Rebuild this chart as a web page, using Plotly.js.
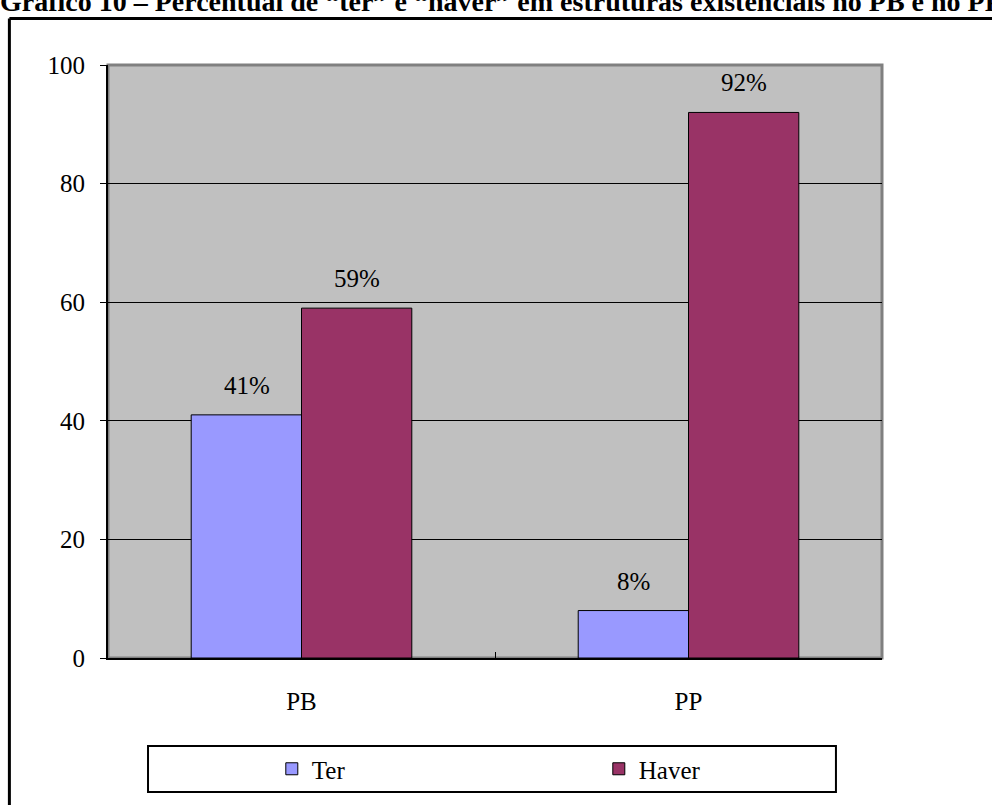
<!DOCTYPE html>
<html>
<head>
<meta charset="utf-8">
<script src="https://cdn.plot.ly/plotly-3.0.1.min.js"></script>
<style>html,body{margin:0;padding:0;background:#fff;}#chart{width:992px;height:805px;}</style>
</head>
<body>
<div id="chart"></div>
<script>
const categories = ["PB", "PP"];
const seriesNames = ["Ter", "Haver"];
const terValues = [41, 8];
const haverValues = [59, 92];
const terLabels = ["41%", "8%"];
const haverLabels = ["59%", "92%"];
const yTicks = [0, 20, 40, 60, 80, 100];
const titleText = "Gráfico 10 – Percentual de “ter” e “haver” em estruturas existenciais no PB e no PP";

const FONT = "'Liberation Serif', 'Times New Roman', Times, serif";
const FS = 25;

const traces = [
  {type: "bar", name: seriesNames[0], x: categories, y: terValues,
   marker: {color: "#9999FF", line: {color: "#000", width: 1}}, hoverinfo: "none"},
  {type: "bar", name: seriesNames[1], x: categories, y: haverValues,
   marker: {color: "#993366", line: {color: "#000", width: 1}}, hoverinfo: "none"}
];

const annotations = [];
categories.forEach((c, i) => {
  annotations.push({x: c, y: terValues[i], text: terLabels[i], showarrow: false,
    xshift: -55, yanchor: "bottom", yshift: 14, font: {family: FONT, size: FS, color: "#000"}});
  annotations.push({x: c, y: haverValues[i], text: haverLabels[i], showarrow: false,
    xshift: 55, yanchor: "bottom", yshift: 14, font: {family: FONT, size: FS, color: "#000"}});
});

const layout = {
  width: 992, height: 805,
  margin: {l: 108, r: 110, t: 65, b: 147, pad: 0, autoexpand: false},
  paper_bgcolor: "#fff",
  plot_bgcolor: "#C0C0C0",
  font: {family: FONT, size: FS, color: "#000"},
  title: {text: "<b>" + titleText + "</b>", x: 0.0, xanchor: "left", xref: "container",
    y: 0.9988, yanchor: "middle", yref: "container", font: {family: FONT, size: 28, color: "#000"}},
  barmode: "group",
  bargap: 0.43,
  bargroupgap: 0,
  showlegend: true,
  legend: {orientation: "h", xref: "container", yref: "container", x: 0.274, xanchor: "left",
    y: 0.0447, yanchor: "middle",
    borderwidth: 0, bgcolor: "rgba(0,0,0,0)", entrywidth: 282, entrywidthmode: "pixels",
    font: {family: FONT, size: FS, color: "#000"}, itemclick: false, itemdoubleclick: false},
  xaxis: {type: "category", showline: true, linecolor: "#000", linewidth: 2,
    ticks: "inside", tickson: "boundaries", ticklen: 6, tickcolor: "#000", tickwidth: 1,
    showgrid: false, ticklabelstandoff: 20, tickfont: {family: FONT, size: FS}, fixedrange: true},
  yaxis: {range: [0, 100], tickvals: yTicks, ticktext: yTicks.map(String), showline: true,
    linecolor: "#000", linewidth: 2, ticks: "outside", ticklen: 6, tickcolor: "#000",
    showgrid: true, gridcolor: "#000", gridwidth: 1, zeroline: false, ticklabelstandoff: 10,
    tickfont: {family: FONT, size: FS}, fixedrange: true},
  annotations: annotations,
  shapes: [
    {type: "rect", xref: "paper", yref: "paper", x0: 0, x1: 1, y0: 0, y1: 1,
     line: {color: "#808080", width: 3}, layer: "below"},
    {type: "rect", xref: "paper", yref: "paper", x0: 0.0517, x1: 0.9405, y0: -0.1484, y1: -0.226,
     line: {color: "#000", width: 2}, fillcolor: "rgba(0,0,0,0)"},
    {type: "line", xref: "paper", yref: "paper", x0: -0.1274, x1: 1.2, y0: 1.0784, y1: 1.0784,
     line: {color: "#000", width: 3}},
    {type: "line", xref: "paper", yref: "paper", x0: -0.1274, x1: -0.1274, y0: 1.0784, y1: -0.5,
     line: {color: "#000", width: 3}}
  ]
};

Plotly.newPlot("chart", traces, layout, {displayModeBar: false, staticPlot: true});
</script>
</body>
</html>
